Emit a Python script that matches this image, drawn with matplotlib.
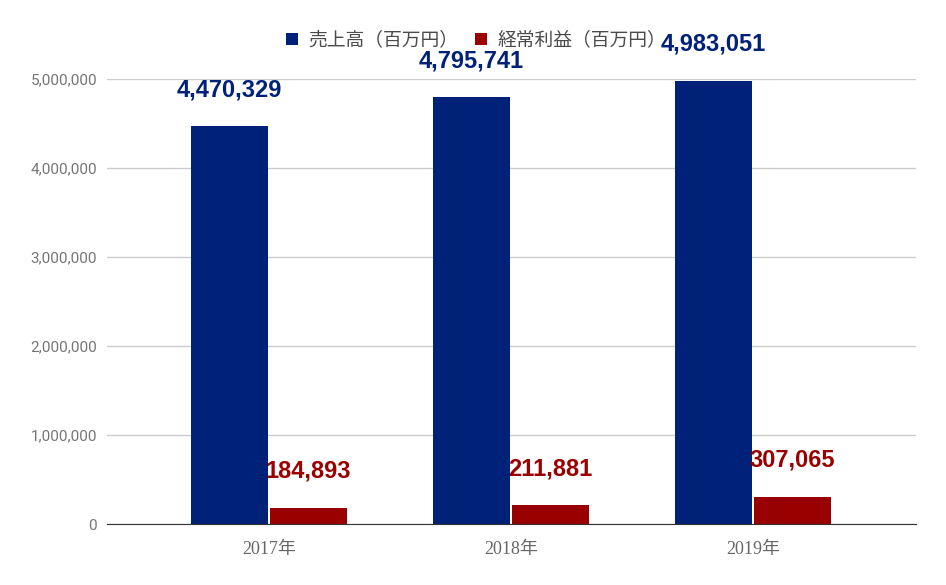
import matplotlib
matplotlib.use('Agg')
import matplotlib.pyplot as plt
import numpy as np
from matplotlib.ticker import FuncFormatter

# data
years = ['2017年', '2018年', '2019年']
sales = [4470329, 4795741, 4983051]      # 売上高（百万円）
profit = [184893, 211881, 307065]        # 経常利益（百万円）
series_names = ['売上高（百万円）', '経常利益（百万円）']

blue = '#002178'
red = '#990000'

fig = plt.figure(figsize=(9.46, 5.85), dpi=100)
ax = fig.add_axes([107/946, 61/585, 809/946, 445/585])

x = np.arange(len(years))
w = 0.32
off = 0.163
b1 = ax.bar(x - off, sales, w, color=blue, label=series_names[0], zorder=3)
b2 = ax.bar(x + off, profit, w, color=red, label=series_names[1], zorder=3)

# value labels above the bars
for bars, vals, c in [(b1, sales, blue), (b2, profit, red)]:
    for r, v in zip(bars, vals):
        ax.annotate(f'{v:,}', (r.get_x() + r.get_width()/2, v),
                    xytext=(0, 21.6), textcoords='offset points',
                    ha='center', va='baseline', fontsize=17,
                    fontweight='bold', color=c, family='Liberation Sans',
                    annotation_clip=False, zorder=5)

ax.set_xlim(-0.669, 2.674)
ax.set_ylim(0, 5000000)
ax.set_yticks(np.arange(0, 5000001, 1000000))
ax.yaxis.set_major_formatter(FuncFormatter(lambda v, p: f'{int(v):,}'))
ax.grid(axis='y', color='#cccccc', lw=1, zorder=0)
ax.set_xticks(x)
ax.set_xticklabels(years, family=['Liberation Serif', 'Noto Sans CJK JP'],
                   fontsize=13, color='#666666')
for lab in ax.get_yticklabels():
    lab.set_family('Roboto')
    lab.set_fontsize(11)
    lab.set_color('#757575')
ax.tick_params(axis='both', length=0)
ax.tick_params(axis='y', pad=7.2)
ax.tick_params(axis='x', pad=12)

for s in ['top', 'right', 'left']:
    ax.spines[s].set_visible(False)
ax.spines['bottom'].set_color('#333333')
ax.spines['bottom'].set_zorder(4)

leg = fig.legend(handles=[b1, b2], labels=series_names, loc='center',
                 bbox_to_anchor=(476/946, 1 - 40/585), ncol=2, frameon=False,
                 prop={'family': 'Noto Sans CJK JP', 'size': 13.5},
                 handlelength=0.62, handleheight=0.62, handletextpad=0.55,
                 columnspacing=0.9)
for t in leg.get_texts():
    t.set_color('#4a4a4a')

fig.savefig('out.png', dpi=100)
